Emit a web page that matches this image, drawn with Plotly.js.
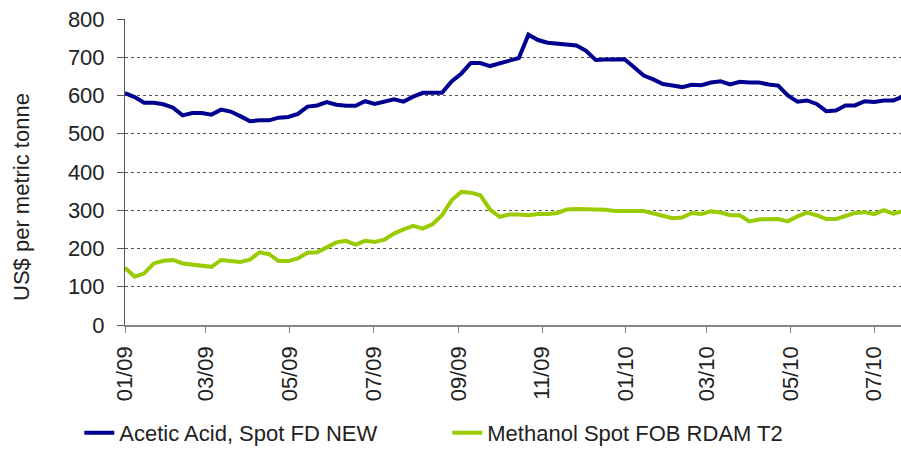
<!DOCTYPE html>
<html>
<head>
<meta charset="utf-8">
<script src="https://cdn.plot.ly/plotly-3.0.1.min.js"></script>
<style>
  html, body { margin: 0; padding: 0; background: #fff; }
  #chart { width: 901px; height: 449px; }
</style>
</head>
<body>
<div id="chart"></div>
<script>
// Weekly observations starting from the first week of January 2009
const startDate = "2009-01-01";

const aceticAcid = [
  606, 596, 581, 581, 577, 568, 548, 554, 554, 550,
  563, 558, 546, 533, 535, 535, 542, 544, 552, 571,
  574, 583, 576, 573, 573, 585, 578, 584, 590, 584,
  597, 607, 607, 607, 637, 657, 685, 685, 677, 684,
  691, 698, 759, 745, 738, 736, 735, 731, 717, 693,
  694, 695, 695, 674, 652, 642, 630, 626, 622, 628,
  627, 634, 637, 629, 636, 634, 634, 629, 626, 600,
  584, 587, 578, 559, 561, 574, 574, 585, 583, 587,
  587, 597
];

const methanol = [
  150, 126, 135, 161, 168, 170, 161, 158, 157, 152,
  170, 168, 165, 171, 190, 185, 167, 167, 174, 189,
  190, 203, 216, 220, 210, 220, 217, 223, 239, 250,
  259, 252, 263, 287, 326, 348, 346, 339, 302, 283,
  289, 289, 287, 290, 290, 293, 302, 303, 303, 303,
  301, 298, 297, 298, 298, 292, 284, 279, 281, 293,
  290, 297, 294, 287, 287, 271, 276, 276, 277, 271,
  284, 294, 287, 277, 277, 285, 293, 295, 290, 300,
  291, 298
];

const seriesNames = ["Acetic Acid, Spot FD NEW", "Methanol Spot FOB RDAM T2"];
const yTickValues = [0, 100, 200, 300, 400, 500, 600, 700, 800];
const yTitle = "US$ per metric tonne";

function weeklyDates(start, n) {
  const out = [];
  const d0 = new Date(start + "T00:00:00Z");
  for (let i = 0; i < n; i++) {
    const d = new Date(d0.getTime() + i * 7 * 86400000);
    out.push(d.toISOString().slice(0, 10));
  }
  return out;
}

const dates = weeklyDates(startDate, aceticAcid.length);
const font = { family: "Liberation Sans, Arial, sans-serif", size: 22, color: "#222222" };
const legendFont = { family: "Liberation Sans, Arial, sans-serif", size: 22, color: "#222222" };

const traces = [
  {
    x: dates, y: aceticAcid, name: seriesNames[0], type: "scatter", mode: "lines",
    line: { color: "#000090", width: 4 }
  },
  {
    x: dates, y: methanol, name: seriesNames[1], type: "scatter", mode: "lines",
    line: { color: "#99CC00", width: 4 }
  }
];

const layout = {
  width: 901, height: 449,
  margin: { l: 125, r: 0, t: 19, b: 124 },
  paper_bgcolor: "#ffffff", plot_bgcolor: "#ffffff",
  font: font,
  showlegend: true,
  legend: {
    orientation: "h",
    xref: "container", yref: "container",
    x: 0.088, y: 0.036, xanchor: "left", yanchor: "middle",
    font: legendFont,
    entrywidth: 323,
    itemwidth: 30,
    tracegroupgap: 0
  },
  xaxis: {
    type: "date",
    range: ["2009-01-01", "2010-07-20 12:00"],
    tick0: "2009-01-01",
    dtick: "M2",
    tickformat: "%m/%y",
    tickangle: -90,
    ticks: "outside", ticklen: 6, tickcolor: "#888888", tickwidth: 1,
    ticklabelstandoff: 5,
    showline: true, linecolor: "#888888", linewidth: 1.5,
    showgrid: false, zeroline: false,
    tickfont: font
  },
  yaxis: {
    range: [0, 800],
    tickvals: yTickValues,
    ticks: "outside", ticklen: 7, tickcolor: "#555555", tickwidth: 1,
    ticklabelstandoff: 8,
    showline: true, linecolor: "#555555", linewidth: 1,
    showgrid: true, gridcolor: "#555555", gridwidth: 1, griddash: "dot",
    zeroline: false,
    tickfont: font
  },
  annotations: [{
    text: yTitle, textangle: -90, showarrow: false,
    xref: "paper", yref: "paper",
    x: (22 - 125) / 776, y: (325 - 197) / 306,
    xanchor: "center", yanchor: "middle",
    font: font
  }],
  hovermode: false
};

Plotly.newPlot("chart", traces, layout, { displayModeBar: false, staticPlot: true });
</script>
</body>
</html>
